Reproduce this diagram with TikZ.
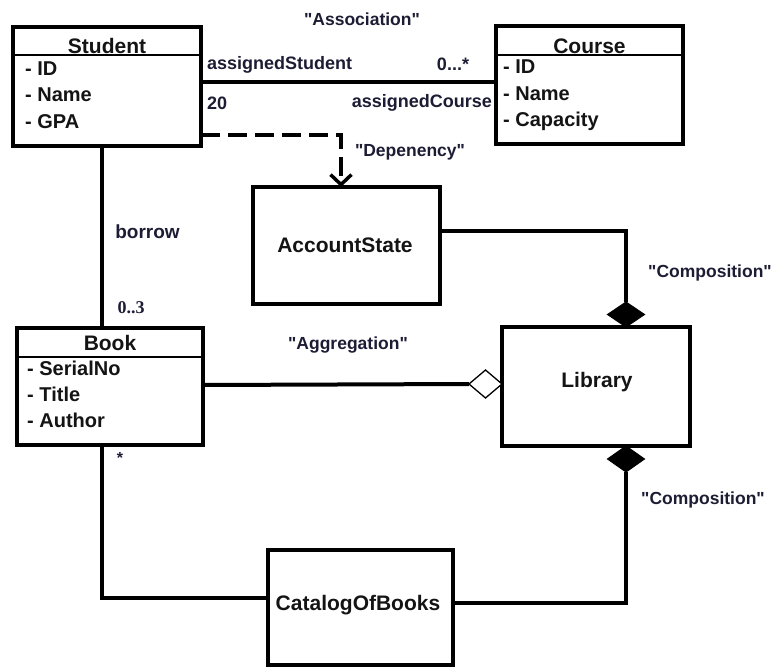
\documentclass[tikz,border=0pt]{standalone}
\usepackage{fontspec}
\setmainfont{Liberation Sans}[Ligatures=TeXOff]
\newfontfamily\serifnum{Liberation Serif}
\usetikzlibrary{shapes.geometric,arrows.meta}

\definecolor{inkcol}{RGB}{20,20,20}
\definecolor{labelcol}{RGB}{28,28,52}

\tikzset{
  classbox/.style={draw=black, line width=4pt, fill=white, inner sep=0pt, outer sep=0pt,
                   minimum width=#1},
  classname/.style={font=\fontsize{21}{24}\selectfont\bfseries, text=inkcol, inner sep=0pt},
  attrtext/.style={font=\fontsize{20}{24}\selectfont\bfseries, text=inkcol, inner sep=0pt, anchor=base west},
  rolelabel/.style={font=\fontsize{18}{22}\selectfont\bfseries, text=labelcol, inner sep=0pt},
  kindlabel/.style={font=\fontsize{17.5}{21}\selectfont\bfseries, text=labelcol, inner sep=0pt},
  link/.style={draw=black, line width=4pt},
  deplink/.style={draw=black, line width=4pt, dash pattern=on 19pt off 8pt,
                  -{Straight Barb[length=10pt,width=21pt,line width=3.5pt]}},
  divider/.style={draw=black, line width=1.2pt},
  filleddiamond/.style={diamond, fill=black, draw=black, line width=1pt, inner sep=0pt, outer sep=0pt,
                        minimum width=37pt, minimum height=25pt},
  hollowdiamond/.style={diamond, fill=white, draw=black, line width=1.3pt, inner sep=0pt, outer sep=0pt,
                        minimum width=33pt, minimum height=28pt},
}

\begin{document}
\begin{tikzpicture}[x=1pt, y=-1pt]
  \useasboundingbox (0,0) rectangle (777,667);

  % ---- classes with attribute compartments ----
  \node[classbox=188pt, minimum height=119pt] (Student) at (107,86.5) {};
  \node[classbox=187pt, minimum height=118pt] (Course)  at (589.5,85) {};
  \node[classbox=186pt, minimum height=117pt] (Book)    at (110,386.5) {};

  \draw[divider] (Student.west |- 0,55) -- (Student.east |- 0,55);
  \draw[divider] (Course.west |- 0,55) -- (Course.east |- 0,55);
  \draw[divider] (Book.west |- 0,357) -- (Book.east |- 0,357);

  \node[classname, anchor=base] (StudentName) at (107,53) {Student};
  \node[classname, anchor=base] (CourseName)  at (589.5,53) {Course};
  \node[classname, anchor=base] (BookName)    at (110,350) {Book};

  \node[attrtext] (sa1) at (25,75)    {- ID};
  \node[attrtext] (sa2) at (25,101.5) {- Name};
  \node[attrtext] (sa3) at (25,128)   {- GPA};

  \node[attrtext] (ca1) at (503,73)   {- ID};
  \node[attrtext] (ca2) at (503,100)  {- Name};
  \node[attrtext] (ca3) at (503,126.5){- Capacity};

  \node[attrtext] (ba1) at (27,375)   {- SerialNo};
  \node[attrtext] (ba2) at (27,401)   {- Title};
  \node[attrtext] (ba3) at (27,427)   {- Author};

  % ---- plain classes ----
  \node[classbox=187pt, minimum height=117pt] (AccountState) at (346.5,245.5) {};
  \node[classbox=188pt, minimum height=119pt] (Library)      at (596,386.5) {};
  \node[classbox=185pt, minimum height=115pt] (Catalog)      at (360.5,607.5) {};

  \node[classname] (AccountStateName) at (345,245) {AccountState};
  \node[classname] (LibraryName)      at (597,382) {Library};
  \node[classname] (CatalogName)      at (358,605) {CatalogOfBooks};

  % ---- association ----
  \draw[link] ([yshift=4.5pt]Student.east) -- ([yshift=4.5pt]Student.east -| Course.west);
  \node[kindlabel] (assocLabel) at (362,19) {"Association"};
  \node[rolelabel, anchor=west] (roleStudent) at (207,65) {assignedStudent};
  \node[rolelabel] (multCourse) at (453,64) {0...*};
  \node[rolelabel, anchor=west] (multStudent) at (207,103) {20};
  \node[rolelabel, anchor=east] (roleCourse) at (492,103) {assignedCourse};

  % ---- dependency ----
  \draw[deplink] ([yshift=-48.5pt]Student.east) -| ([xshift=-5.5pt]AccountState.north);
  \node[kindlabel] (depLabel) at (410,152) {"Depenency"};

  % ---- borrow ----
  \draw[link] ([xshift=-5pt]Student.south) -- ([xshift=-5pt]Student.south |- Book.north);
  \node[rolelabel, font=\fontsize{19}{22}\selectfont\bfseries] (borrowLabel) at (147.5,232) {borrow};
  \node[rolelabel, font=\fontsize{18}{22}\selectfont\serifnum\bfseries] (multBook) at (131,308) {0..3};

  % ---- composition: AccountState -> Library ----
  \node[filleddiamond, anchor=south] (topDiamond) at ([xshift=30pt]Library.north) {};
  \draw[link] ([yshift=14.5pt]AccountState.east) -| (topDiamond.north);
  \node[kindlabel] (compLabelTop) at (710,273) {"Composition"};

  % ---- aggregation: Book -> Library ----
  \node[hollowdiamond, anchor=east] (aggDiamond) at ([yshift=2.5pt]Library.west) {};
  \draw[link] ([yshift=1.5pt]Book.east) -- (aggDiamond.west);
  \node[kindlabel] (aggLabel) at (348,345) {"Aggregation"};

  % ---- composition: CatalogOfBooks -> Library ----
  \node[filleddiamond, anchor=north, minimum height=26pt] (bottomDiamond) at ([xshift=30pt]Library.south) {};
  \draw[link] (bottomDiamond.south) |- ([yshift=4.5pt]Catalog.east);
  \node[kindlabel] (compLabelBottom) at (703,500) {"Composition"};

  % ---- Book -> CatalogOfBooks ----
  \draw[link] ([xshift=-8pt]Book.south) |- ([yshift=9.5pt]Catalog.west);
  \node[rolelabel, font=\fontsize{16}{20}\selectfont\bfseries] (multCatalog) at (120,458) {*};
\end{tikzpicture}
\end{document}
